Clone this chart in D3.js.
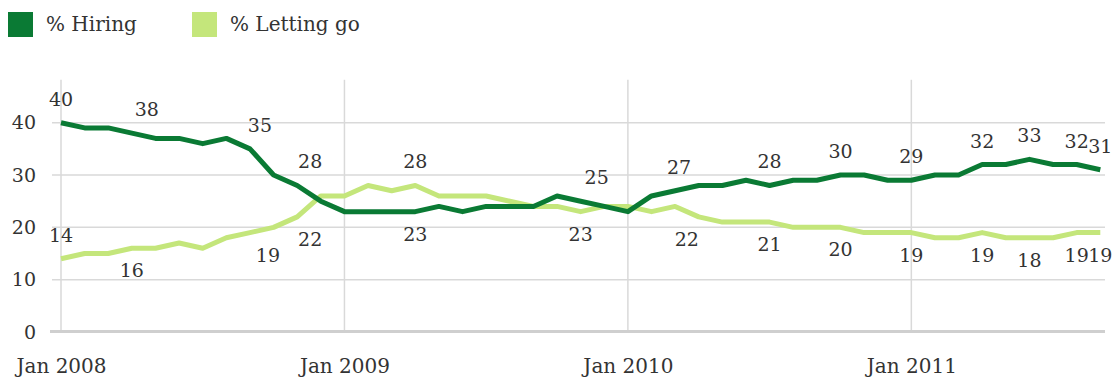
<!DOCTYPE html>
<html>
<head>
<meta charset="utf-8">
<script src="https://cdn.jsdelivr.net/npm/d3@7"></script>
<style>
  body { margin: 0; background: #fff; }
  text { font-family: "DejaVu Serif", Georgia, serif; fill: #333; }
</style>
</head>
<body>
<div class="chart"></div>
<script>
// months, Jan 2008 - Sep 2011
var months = [
  "2008-01","2008-02","2008-03","2008-04","2008-05","2008-06","2008-07","2008-08","2008-09","2008-10","2008-11","2008-12",
  "2009-01","2009-02","2009-03","2009-04","2009-05","2009-06","2009-07","2009-08","2009-09","2009-10","2009-11","2009-12",
  "2010-01","2010-02","2010-03","2010-04","2010-05","2010-06","2010-07","2010-08","2010-09","2010-10","2010-11","2010-12",
  "2011-01","2011-02","2011-03","2011-04","2011-05","2011-06","2011-07","2011-08","2011-09"
];

var hiring = [
  40,39,39,38,37,37,36,37,35,30,28,25,
  23,23,23,23,24,23,24,24,24,26,25,24,
  23,26,27,28,28,29,28,29,29,30,30,29,
  29,30,30,32,32,33,32,32,31
];

var lettingGo = [
  14,15,15,16,16,17,16,18,19,20,22,26,
  26,28,27,28,26,26,26,25,24,24,23,24,
  24,23,24,22,21,21,21,20,20,20,19,19,
  19,18,18,19,18,18,18,19,19
];

// which months carry a value label
var hiringLabels = [0,3,8,10,15,22,26,30,33,36,39,41,43,44];
var lettingLabels = [0,3,8,10,15,22,27,30,33,36,39,41,43,44];

var yTicks = [0,10,20,30,40];
var xTicks = ["2008-01","2009-01","2010-01","2011-01"];
var monthNames = {"01":"Jan"};

var series = [
  {name: "% Hiring", values: hiring, labels: hiringLabels, color: "#0a7a34"},
  {name: "% Letting go", values: lettingGo, labels: lettingLabels, color: "#c4e67b"}
];

// labels nudged sideways in the original
var nudge = [{3: 15, 8: 10, 10: 13, 22: 16, 26: 4}, {8: 18, 10: 13, 27: -12}];

var width = 1118, height = 381;

var svg = d3.select(".chart")
            .append("svg")
            .attr("width", width)
            .attr("height", height);

var x = d3.scalePoint()
          .domain(months)
          .range([61, 1100.3]);

var y = d3.scaleLinear()
          .domain([0, 40])
          .range([332, 122.7]);

// horizontal grid
svg.append("g")
   .selectAll("line")
   .data(yTicks.filter(function(d){ return d > 0; }))
   .join("line")
   .attr("x1", 52).attr("x2", 1105)
   .attr("y1", function(d){ return y(d); })
   .attr("y2", function(d){ return y(d); })
   .attr("stroke", "#d9d9d9")
   .attr("stroke-width", 1.5);

// vertical grid at each January
svg.append("g")
   .selectAll("line")
   .data(xTicks)
   .join("line")
   .attr("x1", function(d){ return x(d); })
   .attr("x2", function(d){ return x(d); })
   .attr("y1", y(48.2)).attr("y2", y(0))
   .attr("stroke", "#d9d9d9")
   .attr("stroke-width", 1.5);

// baseline
svg.append("line")
   .attr("x1", 50).attr("x2", 1105)
   .attr("y1", y(0) - 0.5).attr("y2", y(0) - 0.5)
   .attr("stroke", "#cfcfcf")
   .attr("stroke-width", 3);

// y axis labels
var yAxis = svg.append("g")
   .attr("transform", "translate(36,0)")
   .call(d3.axisLeft(y).tickValues(yTicks).tickSize(0).tickPadding(0));
yAxis.select(".domain").remove();
yAxis.selectAll("text")
     .style("font-size", "19px")
     .style("font-family", "DejaVu Serif")
     .attr("fill", "#444");

// x axis labels
var xAxis = svg.append("g")
   .attr("transform", "translate(0," + y(0) + ")")
   .call(d3.axisBottom(x).tickValues(xTicks).tickSize(0).tickPadding(0)
     .tickFormat(function(d){ return monthNames[d.slice(5)] + " " + d.slice(0,4); }));
xAxis.select(".domain").remove();
xAxis.selectAll("text")
     .attr("dy", 0)
     .attr("y", 41)
     .style("font-size", "20px")
     .style("font-family", "DejaVu Serif")
     .attr("fill", "#333");

// lines
var line = d3.line()
             .x(function(d, i){ return x(months[i]); })
             .y(function(d){ return y(d); });

// light series underneath
[series[1], series[0]].forEach(function(s){
  svg.append("path")
     .attr("d", line(s.values))
     .attr("fill", "none")
     .attr("stroke", s.color)
     .attr("stroke-width", 5)
     .attr("stroke-linejoin", "round");
});

// value labels
series.forEach(function(s, k){
  var other = series[1 - k].values;
  svg.append("g")
     .selectAll("text")
     .data(s.labels)
     .join("text")
     .attr("x", function(i){ return x(months[i]) + (nudge[k][i] || 0); })
     .attr("y", function(i){
        var above = s.values[i] >= other[i];
        if (k === 1 && i === 0) above = true;
        return above ? y(s.values[i]) - 17 : y(s.values[i]) + 29;
     })
     .attr("text-anchor", "middle")
     .style("font-size", "19px")
     .text(function(i){ return s.values[i]; });
});

// legend
var legend = svg.append("g")
   .selectAll("g")
   .data(series)
   .join("g")
   .attr("transform", function(d, i){ return "translate(" + [8, 192][i] + ",12)"; });
legend.append("rect")
      .attr("width", 25).attr("height", 25)
      .attr("fill", function(d){ return d.color; });
legend.append("text")
      .attr("x", 38).attr("y", 19)
      .style("font-size", "20px")
      .text(function(d){ return d.name; });
</script>
</body>
</html>
